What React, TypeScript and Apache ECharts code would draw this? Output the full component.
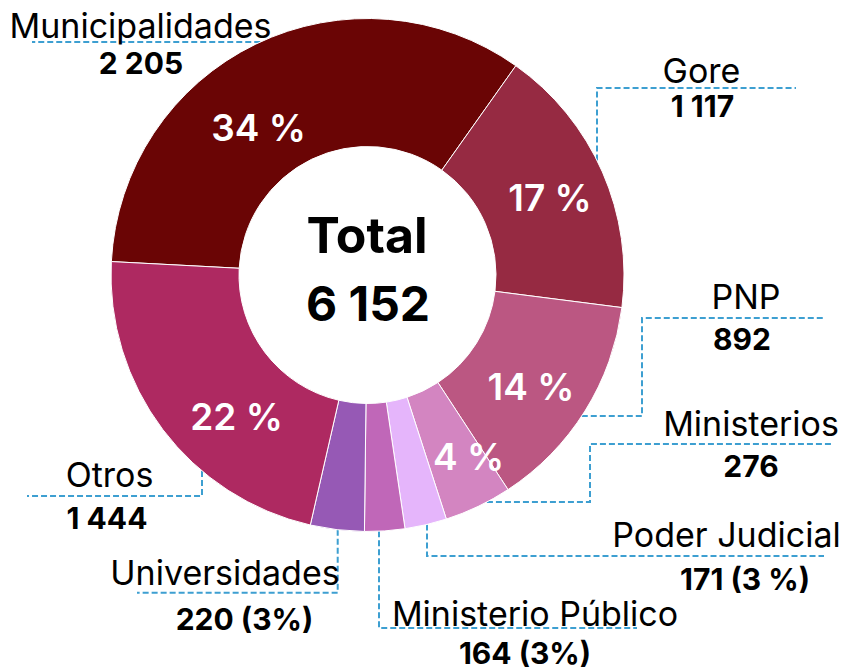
import React, { useEffect, useRef } from "react";
import * as echarts from "echarts";

// ---- data ----
const categories = [
  "Municipalidades",
  "Gore",
  "PNP",
  "Ministerios",
  "Poder Judicial",
  "Ministerio Público",
  "Universidades",
  "Otros",
];
const values = [2205, 1117, 892, 276, 171, 164, 220, 1444];
const valueLabels = ["2 205", "1 117", "892", "276", "171 (3 %)", "164 (3%)", "220 (3%)", "1 444"];
const pctLabels = ["34 %", "17 %", "14 %", "4 %", "", "", "", "22 %"];
const totalTitle = "Total";
const totalLabel = "6 152";
const colors = ["#6a0505", "#962a42", "#bb5782", "#d385c1", "#e5b5fb", "#c067b8", "#9659b5", "#ae2961"];

// ---- layout ----
const CX = 367.5;
const CY = 275;
const R0 = 128.5;
const R1 = 256.5;
const FONT = "Inter";
const LINE_COLOR = "#3d9fd1";

type Pt = [number, number];
const dxAt = (y: number) => Math.sqrt(R1 * R1 - (y - CY) * (y - CY));
const dyAt = (x: number) => Math.sqrt(R1 * R1 - (x - CX) * (x - CX));

const leaderLines: Pt[][] = [
  [[CX - dxAt(42), 42], [32, 42]],
  [[597, CY - dyAt(597)], [597, 88], [796, 88]],
  [[CX + dxAt(416), 416], [642, 416], [642, 318], [824, 318]],
  [[CX + dxAt(502), 502], [590, 502], [590, 444], [831, 444]],
  [[427, CY + dyAt(427)], [427, 556], [824, 556]],
  [[379, CY + dyAt(379)], [379, 628], [637, 628]],
  [[337.7, CY + dyAt(337.7)], [337.7, 592.7], [137, 592.7]],
  [[202, CY + dyAt(202)], [202, 496], [27, 496]],
];
const namePos: Pt[] = [
  [140.5, 25], [701.5, 70.5], [746, 296], [751, 423], [726.5, 534.5], [535, 613.5], [225, 572], [109.5, 474],
];
const valuePos: Pt[] = [
  [141, 63.3], [702.5, 106], [742, 338.5], [751, 465.5], [745, 579], [525, 653], [244.5, 619], [107, 517.5],
];
const pctPos: Pt[] = [
  [258.5, 127], [550, 197], [531, 386.5], [468.5, 456.5], [0, 0], [0, 0], [0, 0], [236.5, 416],
];

export default function App() {
  const ref = useRef<HTMLDivElement>(null);
  useEffect(() => {
    if (!ref.current) return;
    const chart = echarts.init(ref.current, null, { renderer: "svg" });
    const data = categories.map((n, i) => ({ name: n, value: values[i] }));
    const base: any = {
      type: "pie",
      center: [CX, CY],
      radius: [R0, R1],
      startAngle: 177,
      clockwise: true,
      avoidLabelOverlap: false,
      silent: true,
      emphasis: { disabled: true },
      data,
    };
    chart.setOption({
      animation: false,
      color: colors,
      series: [
        {
          ...base,
          itemStyle: { borderColor: "#ffffff", borderWidth: 1 },
          label: {
            show: true,
            position: "inside",
            formatter: (p: any) => pctLabels[p.dataIndex],
            color: "#ffffff",
            fontFamily: FONT,
            fontSize: 37,
            fontWeight: 600,
          },
          labelLine: { show: false },
          labelLayout: (p: any) => ({
            x: pctPos[p.dataIndex][0],
            y: pctPos[p.dataIndex][1],
            align: "center",
            verticalAlign: "middle",
          }),
        },
        {
          ...base,
          itemStyle: { color: "rgba(0,0,0,0)", borderWidth: 0 },
          label: {
            show: true,
            position: "outside",
            formatter: "{b}",
            color: "#000000",
            fontFamily: FONT,
            fontSize: 34,
            fontWeight: 400,
          },
          labelLine: {
            show: true,
            lineStyle: { color: LINE_COLOR, width: 2, type: [6, 3] },
          },
          labelLayout: (p: any) => ({
            x: namePos[p.dataIndex][0],
            y: namePos[p.dataIndex][1],
            align: "center",
            verticalAlign: "middle",
            labelLinePoints: leaderLines[p.dataIndex],
          }),
        },
        {
          ...base,
          itemStyle: { color: "rgba(0,0,0,0)", borderWidth: 0 },
          label: {
            show: true,
            position: "outside",
            formatter: (p: any) => valueLabels[p.dataIndex],
            color: "#000000",
            fontFamily: FONT,
            fontSize: 30,
            fontWeight: "bold",
          },
          labelLine: { show: false },
          labelLayout: (p: any) => ({
            x: valuePos[p.dataIndex][0],
            y: valuePos[p.dataIndex][1],
            align: "center",
            verticalAlign: "middle",
          }),
        },
      ],
      graphic: [
        {
          type: "text",
          x: 367,
          y: 235,
          silent: true,
          style: {
            text: totalTitle,
            align: "center",
            verticalAlign: "middle",
            fontFamily: FONT,
            fontSize: 50,
            fontWeight: "bold",
            fill: "#000000",
          },
        },
        {
          type: "text",
          x: 368,
          y: 303.5,
          silent: true,
          style: {
            text: totalLabel,
            align: "center",
            verticalAlign: "middle",
            fontFamily: FONT,
            fontSize: 48,
            fontWeight: "bold",
            fill: "#000000",
          },
        },
      ],
    });
    return () => chart.dispose();
  }, []);
  return (
    <div
      ref={ref}
      style={{ position: "absolute", left: 0, top: 0, width: 843, height: 670 }}
    />
  );
}
